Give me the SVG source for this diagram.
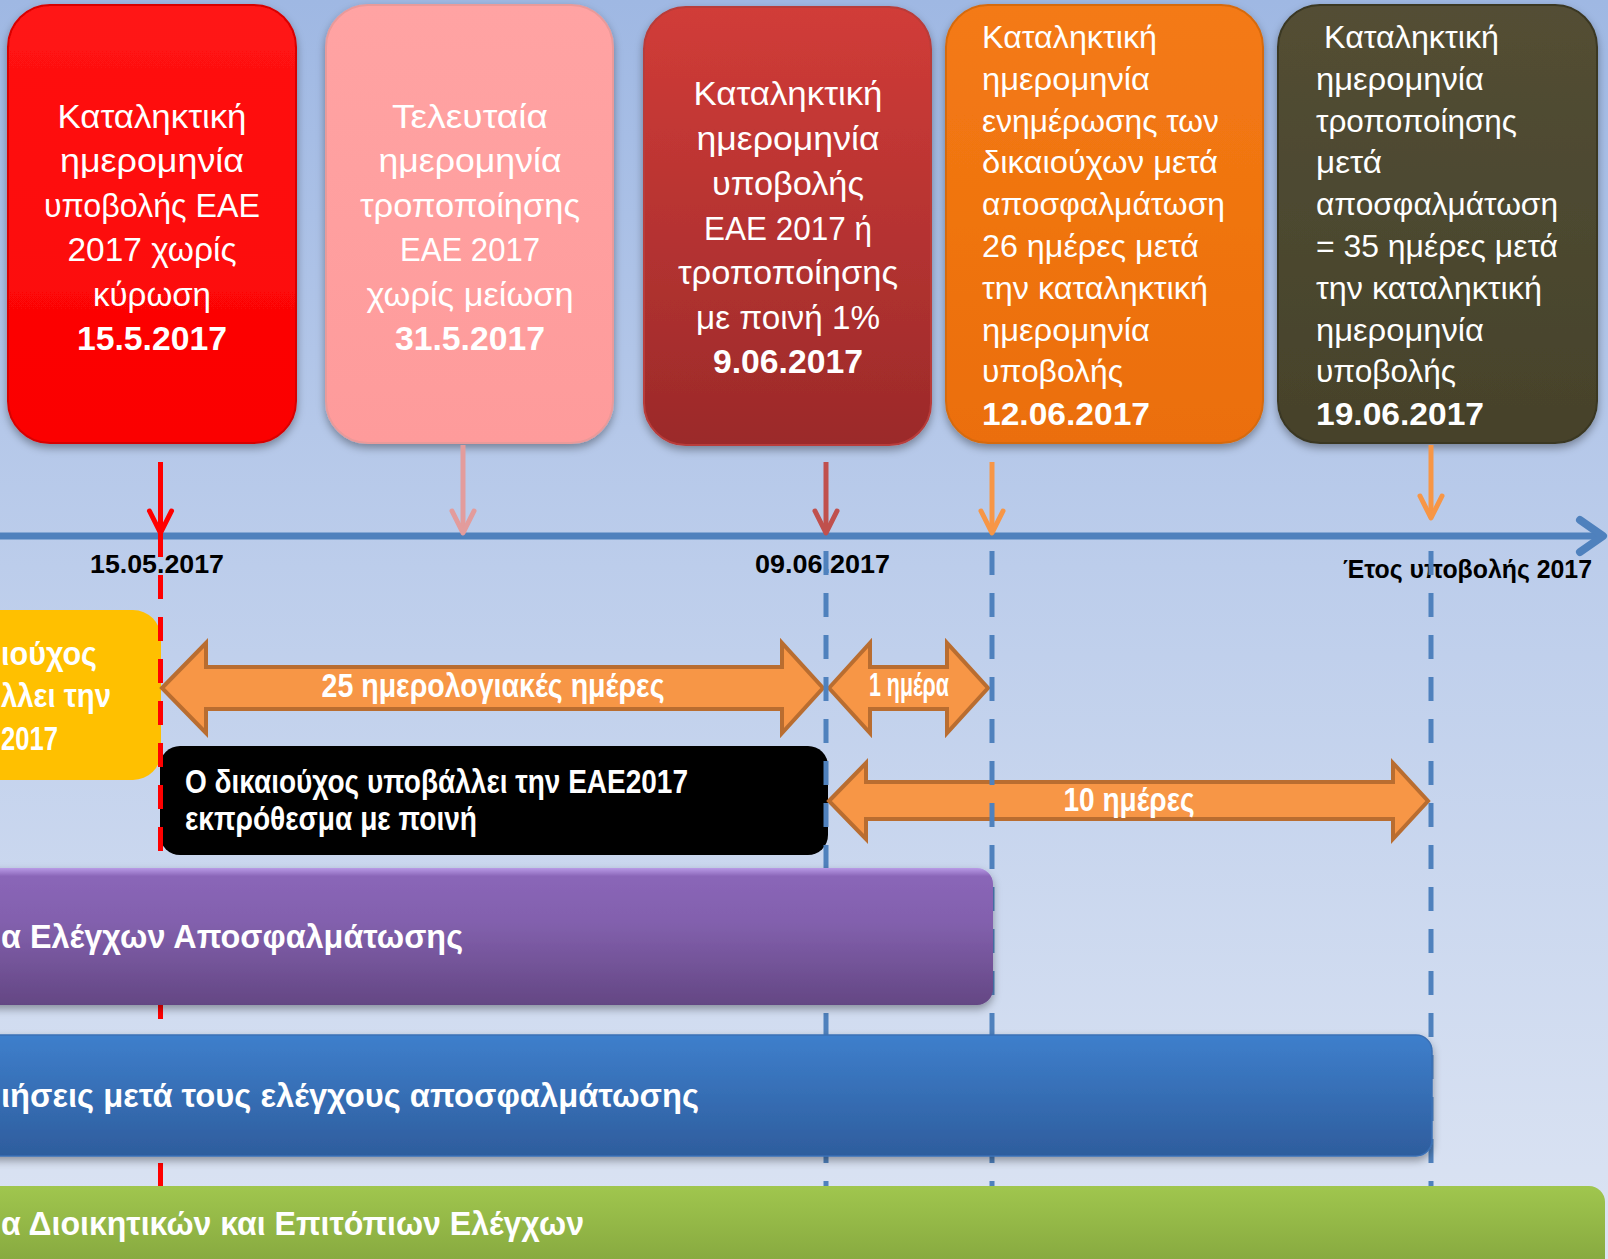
<svg xmlns="http://www.w3.org/2000/svg" width="1608" height="1259" viewBox="0 0 1608 1259">
<defs>
<linearGradient id="bg" x1="0" y1="0" x2="0" y2="1">
<stop offset="0" stop-color="#9fb8e3"/>
<stop offset="0.45" stop-color="#bccdeb"/>
<stop offset="1" stop-color="#dce4f3"/>
</linearGradient>
<linearGradient id="g1" x1="0" y1="0" x2="0" y2="1"><stop offset="0" stop-color="#ff1414"/><stop offset="1" stop-color="#fb0000"/></linearGradient>
<linearGradient id="g2" x1="0" y1="0" x2="0" y2="1"><stop offset="0" stop-color="#ffa3a3"/><stop offset="1" stop-color="#fe9b9b"/></linearGradient>
<linearGradient id="g3" x1="0" y1="0" x2="0" y2="1"><stop offset="0" stop-color="#d13c38"/><stop offset="1" stop-color="#9b2a2a"/></linearGradient>
<linearGradient id="g4" x1="0" y1="0" x2="0" y2="1"><stop offset="0" stop-color="#f47a14"/><stop offset="1" stop-color="#eb6e0c"/></linearGradient>
<linearGradient id="g5" x1="0" y1="0" x2="0" y2="1"><stop offset="0" stop-color="#534e34"/><stop offset="1" stop-color="#46422b"/></linearGradient>
<linearGradient id="gp" x1="0" y1="0" x2="0" y2="1"><stop offset="0" stop-color="#b89ae6"/><stop offset="0.06" stop-color="#8a66b8"/><stop offset="0.4" stop-color="#8260ad"/><stop offset="1" stop-color="#644784"/></linearGradient>
<linearGradient id="gb" x1="0" y1="0" x2="0" y2="1"><stop offset="0" stop-color="#3e7fcc"/><stop offset="1" stop-color="#2e5d9d"/></linearGradient>
<linearGradient id="gg" x1="0" y1="0" x2="0" y2="1"><stop offset="0" stop-color="#a0c64e"/><stop offset="1" stop-color="#7c9c39"/></linearGradient>
<filter id="sh" x="-10%" y="-10%" width="120%" height="130%"><feDropShadow dx="0" dy="4" stdDeviation="4" flood-color="#000" flood-opacity="0.35"/></filter>
<marker id="mRed" markerUnits="userSpaceOnUse" viewBox="-30 -15 34 30" refX="0" refY="0" markerWidth="34" markerHeight="30" orient="auto"><path d="M-22,-11 L0,0 L-22,11" fill="none" stroke="#ff0000" stroke-width="5" stroke-linecap="round" stroke-linejoin="round"/></marker>
<marker id="mPink" markerUnits="userSpaceOnUse" viewBox="-30 -15 34 30" refX="0" refY="0" markerWidth="34" markerHeight="30" orient="auto"><path d="M-22,-11 L0,0 L-22,11" fill="none" stroke="#e39c9c" stroke-width="5" stroke-linecap="round" stroke-linejoin="round"/></marker>
<marker id="mDark" markerUnits="userSpaceOnUse" viewBox="-30 -15 34 30" refX="0" refY="0" markerWidth="34" markerHeight="30" orient="auto"><path d="M-22,-11 L0,0 L-22,11" fill="none" stroke="#c0504d" stroke-width="5" stroke-linecap="round" stroke-linejoin="round"/></marker>
<marker id="mOr" markerUnits="userSpaceOnUse" viewBox="-30 -15 34 30" refX="0" refY="0" markerWidth="34" markerHeight="30" orient="auto"><path d="M-22,-11 L0,0 L-22,11" fill="none" stroke="#f79646" stroke-width="5" stroke-linecap="round" stroke-linejoin="round"/></marker>
<style>
.t{font-family:"Liberation Sans","Noto Sans",sans-serif;fill:#fff;font-size:34px}
.s{font-size:31px}
.b{font-weight:bold}
.c{text-anchor:middle}
.lbl{font-family:"Liberation Sans","Noto Sans",sans-serif;font-weight:bold;fill:#000;font-size:26px}
.dr{stroke:#ff0000;stroke-width:5;stroke-dasharray:24 18;fill:none}
.db{stroke:#4f81bd;stroke-width:5;stroke-dasharray:24 18;stroke-dashoffset:28;fill:none}
.oa{fill:#f79646;stroke:#b96d30;stroke-width:4;stroke-linejoin:miter}
.vl{stroke-width:5;fill:none}
</style>
</defs>
<rect x="0" y="0" width="1608" height="1259" fill="url(#bg)"/>

<g id="box1">
<rect x="8" y="5" width="288" height="438" rx="42" fill="url(#g1)" stroke="#d80000" stroke-width="2" filter="url(#sh)"/>
<text class="t c" x="152" y="128" textLength="189" lengthAdjust="spacingAndGlyphs">Καταληκτική</text>
<text class="t c" x="152" y="172" textLength="184" lengthAdjust="spacingAndGlyphs">ημερομηνία</text>
<text class="t c" x="152" y="217" textLength="216" lengthAdjust="spacingAndGlyphs">υποβολής ΕΑΕ</text>
<text class="t c" x="152" y="261" textLength="169" lengthAdjust="spacingAndGlyphs">2017 χωρίς</text>
<text class="t c" x="152" y="306" textLength="118" lengthAdjust="spacingAndGlyphs">κύρωση</text>
<text class="t c b" x="152" y="350" textLength="150" lengthAdjust="spacingAndGlyphs">15.5.2017</text>
</g>

<g id="box2">
<rect x="326" y="5" width="287" height="438" rx="42" fill="url(#g2)" stroke="#e99a9a" stroke-width="2" filter="url(#sh)"/>
<text class="t c" x="470" y="128" textLength="156" lengthAdjust="spacingAndGlyphs">Τελευταία</text>
<text class="t c" x="470" y="172" textLength="183" lengthAdjust="spacingAndGlyphs">ημερομηνία</text>
<text class="t c" x="470" y="217" textLength="220" lengthAdjust="spacingAndGlyphs">τροποποίησης</text>
<text class="t c" x="470" y="261" textLength="140" lengthAdjust="spacingAndGlyphs">ΕΑΕ 2017</text>
<text class="t c" x="470" y="306" textLength="207" lengthAdjust="spacingAndGlyphs">χωρίς μείωση</text>
<text class="t c b" x="470" y="350" textLength="150" lengthAdjust="spacingAndGlyphs">31.5.2017</text>
</g>

<g id="box3">
<rect x="644" y="7" width="287" height="438" rx="42" fill="url(#g3)" stroke="#b83c3a" stroke-width="2" filter="url(#sh)"/>
<text class="t c" x="788" y="105" textLength="189" lengthAdjust="spacingAndGlyphs">Καταληκτική</text>
<text class="t c" x="788" y="150" textLength="183" lengthAdjust="spacingAndGlyphs">ημερομηνία</text>
<text class="t c" x="788" y="195" textLength="152" lengthAdjust="spacingAndGlyphs">υποβολής</text>
<text class="t c" x="788" y="240" textLength="168" lengthAdjust="spacingAndGlyphs">ΕΑΕ 2017 ή</text>
<text class="t c" x="788" y="284" textLength="220" lengthAdjust="spacingAndGlyphs">τροποποίησης</text>
<text class="t c" x="788" y="329" textLength="184" lengthAdjust="spacingAndGlyphs">με ποινή 1%</text>
<text class="t c b" x="788" y="373" textLength="150" lengthAdjust="spacingAndGlyphs">9.06.2017</text>
</g>

<g id="box4">
<rect x="946" y="5" width="317" height="438" rx="42" fill="url(#g4)" stroke="#d66a10" stroke-width="2" filter="url(#sh)"/>
<text class="t s" x="982" y="48" textLength="175" lengthAdjust="spacingAndGlyphs">Καταληκτική</text>
<text class="t s" x="982" y="90" textLength="168" lengthAdjust="spacingAndGlyphs">ημερομηνία</text>
<text class="t s" x="982" y="132" textLength="237" lengthAdjust="spacingAndGlyphs">ενημέρωσης των</text>
<text class="t s" x="982" y="173" textLength="236" lengthAdjust="spacingAndGlyphs">δικαιούχων μετά</text>
<text class="t s" x="982" y="215" textLength="243" lengthAdjust="spacingAndGlyphs">αποσφαλμάτωση</text>
<text class="t s" x="982" y="257" textLength="217" lengthAdjust="spacingAndGlyphs">26 ημέρες μετά</text>
<text class="t s" x="982" y="299" textLength="226" lengthAdjust="spacingAndGlyphs">την καταληκτική</text>
<text class="t s" x="982" y="341" textLength="168" lengthAdjust="spacingAndGlyphs">ημερομηνία</text>
<text class="t s" x="982" y="382" textLength="141" lengthAdjust="spacingAndGlyphs">υποβολής</text>
<text class="t s b" x="982" y="425" textLength="168" lengthAdjust="spacingAndGlyphs">12.06.2017</text>
</g>

<g id="box5">
<rect x="1278" y="5" width="319" height="438" rx="42" fill="url(#g5)" stroke="#3a3724" stroke-width="2" filter="url(#sh)"/>
<text class="t s" x="1324" y="48" textLength="175" lengthAdjust="spacingAndGlyphs">Καταληκτική</text>
<text class="t s" x="1316" y="90" textLength="168" lengthAdjust="spacingAndGlyphs">ημερομηνία</text>
<text class="t s" x="1316" y="132" textLength="201" lengthAdjust="spacingAndGlyphs">τροποποίησης</text>
<text class="t s" x="1316" y="173" textLength="66" lengthAdjust="spacingAndGlyphs">μετά</text>
<text class="t s" x="1316" y="215" textLength="242" lengthAdjust="spacingAndGlyphs">αποσφαλμάτωση</text>
<text class="t s" x="1316" y="257" textLength="242" lengthAdjust="spacingAndGlyphs">= 35 ημέρες μετά</text>
<text class="t s" x="1316" y="299" textLength="226" lengthAdjust="spacingAndGlyphs">την καταληκτική</text>
<text class="t s" x="1316" y="341" textLength="168" lengthAdjust="spacingAndGlyphs">ημερομηνία</text>
<text class="t s" x="1316" y="382" textLength="140" lengthAdjust="spacingAndGlyphs">υποβολής</text>
<text class="t s b" x="1316" y="425" textLength="168" lengthAdjust="spacingAndGlyphs">19.06.2017</text>
</g>

<g id="timeline">
<line x1="0" y1="536" x2="1601" y2="536" stroke="#4f81bd" stroke-width="7"/>
<path d="M1580,520 L1603,536 L1580,552" fill="none" stroke="#4f81bd" stroke-width="8" stroke-linecap="round" stroke-linejoin="round"/>
</g>

<g id="labels">
<text class="lbl" x="90" y="573" textLength="134" lengthAdjust="spacingAndGlyphs">15.05.2017</text>
<text class="lbl" x="755" y="573" textLength="135" lengthAdjust="spacingAndGlyphs">09.06.2017</text>
<text class="lbl" x="1343" y="578" textLength="249" lengthAdjust="spacingAndGlyphs">Έτος υποβολής 2017</text>
</g>

<g id="yellowBox">
<rect x="-40" y="610" width="201" height="170" rx="28" fill="#ffc000"/>
<text class="t b" x="1" y="665" font-size="31" textLength="96" lengthAdjust="spacingAndGlyphs">ιούχος</text>
<text class="t b" x="1" y="707" font-size="31" textLength="110" lengthAdjust="spacingAndGlyphs">λλει την</text>
<text class="t b" x="1" y="750" font-size="31" textLength="57" lengthAdjust="spacingAndGlyphs">2017</text>
</g>

<g id="blackBox">
<rect x="160" y="746" width="668" height="109" rx="20" fill="#000"/>
<text class="t b" x="185" y="793" font-size="25" textLength="503" lengthAdjust="spacingAndGlyphs">Ο δικαιούχος υποβάλλει την ΕΑΕ2017</text>
<text class="t b" x="185" y="830" font-size="25" textLength="292" lengthAdjust="spacingAndGlyphs">εκπρόθεσμα με ποινή</text>
</g>

<g id="span25">
<polygon class="oa" points="162,688 206,643 206,667 782,667 782,643 823,688 782,733 782,709 206,709 206,733"/>
<text class="t b c" x="493" y="697" font-size="25" textLength="343" lengthAdjust="spacingAndGlyphs">25 ημερολογιακές ημέρες</text>
</g>

<g id="span1">
<polygon class="oa" points="829,688 870,643 870,667 947,667 947,643 988,688 947,733 947,709 870,709 870,733"/>
<text class="t b c" x="909" y="696" font-size="19" textLength="80" lengthAdjust="spacingAndGlyphs">1 ημέρα</text>
</g>

<g id="span10">
<polygon class="oa" points="829,801 866,763 866,782 1393,782 1393,763 1428,801 1393,839 1393,819 866,819 866,839"/>
<text class="t b c" x="1129" y="811" font-size="25" textLength="131" lengthAdjust="spacingAndGlyphs">10 ημέρες</text>
</g>

<g id="connectors">
<line class="vl" x1="160.5" y1="462" x2="160.5" y2="533" stroke="#ff0000" marker-end="url(#mRed)"/>
<line class="vl" x1="463" y1="445" x2="463" y2="533" stroke="#e39c9c" marker-end="url(#mPink)"/>
<line class="vl" x1="826" y1="462" x2="826" y2="533" stroke="#c0504d" marker-end="url(#mDark)"/>
<line class="vl" x1="992" y1="462" x2="992" y2="533" stroke="#f79646" marker-end="url(#mOr)"/>
<line class="vl" x1="1431" y1="445" x2="1431" y2="518" stroke="#f79646" marker-end="url(#mOr)"/>
<line class="dr" x1="160.5" y1="533" x2="160.5" y2="1186"/>
<line class="db" x1="826" y1="537" x2="826" y2="1186"/>
<line class="db" x1="992" y1="537" x2="992" y2="1186"/>
<line class="db" x1="1431" y1="537" x2="1431" y2="1186"/>
</g>

<g id="barDebug">
<rect x="-40" y="868" width="1033" height="137" rx="16" fill="url(#gp)" filter="url(#sh)"/>
<text class="t b" x="1" y="948" font-size="29" textLength="462" lengthAdjust="spacingAndGlyphs">α Ελέγχων Αποσφαλμάτωσης</text>
</g>

<g id="barNotify">
<rect x="-40" y="1035" width="1472" height="121" rx="16" fill="url(#gb)" stroke="#3a70b5" stroke-width="1.5" filter="url(#sh)"/>
<text class="t b" x="1" y="1107" font-size="29" textLength="698" lengthAdjust="spacingAndGlyphs">ιήσεις μετά τους ελέγχους αποσφαλμάτωσης</text>
</g>

<g id="barAdmin">
<rect x="-40" y="1186" width="1645" height="110" rx="16" fill="url(#gg)"/>
<text class="t b" x="1" y="1235" font-size="29" textLength="583" lengthAdjust="spacingAndGlyphs">α Διοικητικών και Επιτόπιων Ελέγχων</text>
</g>
</svg>
